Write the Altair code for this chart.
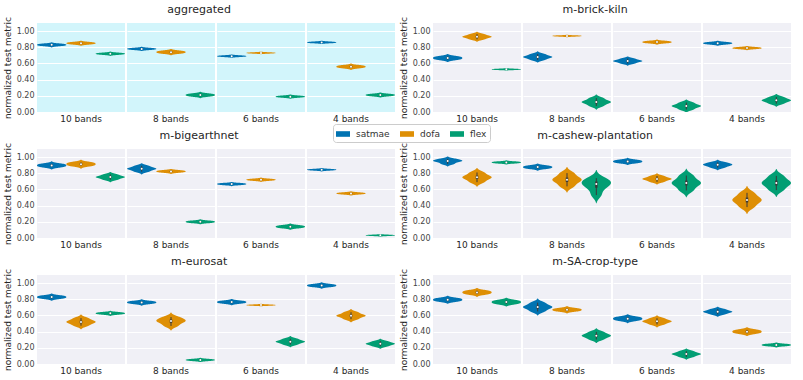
import altair as alt
import pandas as pd

BANDS = ["10 bands", "8 bands", "6 bands", "4 bands"]
MODELS = ["satmae", "dofa", "flex"]
COLORS = ["#0173b2", "#de8f05", "#029e73"]
Y_TICKS = [0.0, 0.2, 0.4, 0.6, 0.8, 1.0]

# sample runs per violin (one list per band, order: 10, 8, 6, 4 bands)
aggregated = {
    "satmae": [[0.818, 0.83, 0.842], [0.77, 0.78, 0.79], [0.682, 0.69, 0.698], [0.852, 0.86, 0.868]],
    "dofa": [[0.838, 0.85, 0.862], [0.725, 0.74, 0.755], [0.724, 0.73, 0.736], [0.545, 0.56, 0.575]],
    "flex": [[0.71, 0.72, 0.73], [0.195, 0.21, 0.225], [0.18, 0.19, 0.20], [0.198, 0.21, 0.222]],
}
brick_kiln = {
    "satmae": [[0.648, 0.667, 0.686], [0.644, 0.668, 0.68, 0.692, 0.716],
               [0.60, 0.62, 0.63, 0.64, 0.66], [0.838, 0.85, 0.862]],
    "dofa": [[0.898, 0.919, 0.93, 0.941, 0.962], [0.934, 0.94, 0.946],
             [0.852, 0.864, 0.876], [0.78, 0.79, 0.80]],
    "flex": [[0.521, 0.527, 0.533], [0.074, 0.107, 0.123, 0.139, 0.172],
             [0.031, 0.06, 0.074, 0.088, 0.117], [0.103, 0.13, 0.144, 0.158, 0.185]],
}
bigearthnet = {
    "satmae": [[0.878, 0.897, 0.916], [0.82, 0.844, 0.856, 0.868, 0.892],
               [0.657, 0.667, 0.677], [0.836, 0.844, 0.852]],
    "dofa": [[0.892, 0.913, 0.934], [0.811, 0.823, 0.835], [0.71, 0.72, 0.73], [0.541, 0.551, 0.561]],
    "flex": [[0.72, 0.742, 0.753, 0.764, 0.786], [0.188, 0.20, 0.212],
             [0.125, 0.14, 0.155], [0.027, 0.033, 0.039]],
}
cashew = {
    "satmae": [[0.915, 0.94, 0.952, 0.962, 0.978], [0.859, 0.876, 0.893],
               [0.929, 0.946, 0.963], [0.87, 0.893, 0.905, 0.917, 0.935]],
    "dofa": [[0.69, 0.73, 0.75, 0.77, 0.81], [0.638, 0.693, 0.72, 0.747, 0.802],
             [0.694, 0.718, 0.73, 0.742, 0.766], [0.382, 0.44, 0.47, 0.50, 0.558]],
    "flex": [[0.924, 0.934, 0.944], [0.53, 0.61, 0.655, 0.68, 0.705, 0.74],
             [0.588, 0.65, 0.68, 0.71, 0.772], [0.592, 0.65, 0.68, 0.71, 0.768]],
}
eurosat = {
    "satmae": [[0.81, 0.827, 0.844], [0.746, 0.761, 0.776], [0.75, 0.765, 0.78], [0.955, 0.97, 0.985]],
    "dofa": [[0.473, 0.504, 0.52, 0.536, 0.567], [0.47, 0.51, 0.532, 0.55, 0.58],
             [0.722, 0.728, 0.734], [0.554, 0.583, 0.597, 0.611, 0.64]],
    "flex": [[0.614, 0.626, 0.638], [0.04, 0.05, 0.06],
             [0.24, 0.264, 0.276, 0.288, 0.312], [0.218, 0.239, 0.25, 0.261, 0.282]],
}
sa_crop = {
    "satmae": [[0.775, 0.794, 0.813], [0.65, 0.686, 0.704, 0.722, 0.758],
               [0.539, 0.56, 0.581], [0.614, 0.635, 0.646, 0.657, 0.678]],
    "dofa": [[0.864, 0.885, 0.906], [0.653, 0.67, 0.687],
             [0.489, 0.514, 0.527, 0.54, 0.565], [0.379, 0.40, 0.421]],
    "flex": [[0.744, 0.765, 0.786], [0.303, 0.334, 0.35, 0.366, 0.397],
             [0.087, 0.111, 0.123, 0.135, 0.159], [0.223, 0.235, 0.247]],
}

PANELS = [
    ("aggregated", aggregated, "#d2f5fb"),
    ("m-brick-kiln", brick_kiln, "#f0f0f6"),
    ("m-bigearthnet", bigearthnet, "#f0f0f6"),
    ("m-cashew-plantation", cashew, "#f0f0f6"),
    ("m-eurosat", eurosat, "#f0f0f6"),
    ("m-SA-crop-type", sa_crop, "#f0f0f6"),
]

YTITLE = "normalized test metric"
yscale = alt.Scale(domain=[0, 1.1], nice=False, zero=False)
yaxis = alt.Axis(values=Y_TICKS, format=".2f", title=YTITLE)
xscale = alt.Scale(domain=[-0.5, 2.5], nice=False, zero=False)
cscale = alt.Scale(domain=MODELS, range=COLORS)
legend = alt.Legend(
    orient="none", legendX=296, legendY=101, direction="horizontal", title=None,
    symbolType="M-1,-0.4L1,-0.4L1,0.4L-1,0.4Z", symbolSize=196,
    symbolStrokeWidth=0, symbolOpacity=1, fillColor="white", strokeColor="#cccccc",
    padding=3, cornerRadius=3, labelFontSize=9, labelColor="#333333",
    columnPadding=10, labelOffset=6,
)


def panel(name, samples, bg):
    rows = []
    for mi, m in enumerate(MODELS):
        for bi, b in enumerate(BANDS):
            for v in samples[m][bi]:
                rows.append({"band": b, "model": m, "idx": mi, "value": v})
    df = pd.DataFrame(rows)
    base = alt.Chart()
    violin = base.transform_density(
        "value", groupby=["band", "model", "idx"], as_=["value", "density"],
        extent=[0, 1.1], steps=1101,
    ).transform_joinaggregate(
        dmax="max(density)", groupby=["band", "model"]
    ).transform_calculate(
        norm="datum.density / datum.dmax"
    ).transform_filter(
        "datum.norm > 0.02"
    ).transform_calculate(
        xa="datum.idx - 0.5 * datum.norm", xb="datum.idx + 0.5 * datum.norm"
    ).mark_area(orient="horizontal", opacity=1).encode(
        y=alt.Y("value:Q", scale=yscale, axis=yaxis, title=YTITLE),
        x=alt.X("xa:Q", scale=xscale, axis=None),
        x2="xb:Q",
        color=alt.Color("model:N", scale=cscale, legend=legend),
    )
    stats = base.transform_aggregate(
        lo="min(value)", hi="max(value)", med="median(value)",
        q1="q1(value)", q3="q3(value)", groupby=["band", "model", "idx"],
    )
    whisk = stats.mark_rule(color="#3a3a3a", strokeWidth=1).encode(
        x=alt.X("idx:Q", scale=xscale, axis=None),
        y=alt.Y("lo:Q", scale=yscale, axis=yaxis, title=YTITLE), y2="hi:Q",
    )
    box = stats.mark_rule(color="#3a3a3a", strokeWidth=2.5).encode(
        x=alt.X("idx:Q", scale=xscale, axis=None),
        y=alt.Y("q1:Q", scale=yscale, axis=yaxis, title=YTITLE), y2="q3:Q",
    )
    dot = stats.mark_point(filled=True, color="white", size=4, opacity=1).encode(
        x=alt.X("idx:Q", scale=xscale, axis=None),
        y=alt.Y("med:Q", scale=yscale, axis=yaxis, title=YTITLE),
    )
    layer = alt.layer(violin, whisk, box, dot, data=df).properties(
        width=88, height=89, view=alt.ViewBackground(fill=bg, stroke=None)
    )
    return layer.facet(
        column=alt.Column(
            "band:N", sort=BANDS,
            header=alt.Header(title=None, labelOrient="bottom", labelFontSize=9,
                              labelColor="#262626", labelPadding=3),
        ),
        spacing=2,
        title=alt.TitleParams(name, fontSize=11, fontWeight="normal",
                              color="#262626", offset=2, anchor="middle"),
    )


charts = [panel(*p) for p in PANELS]
rows = [alt.hconcat(charts[i], charts[i + 1], spacing=4) for i in (0, 2, 4)]
chart = alt.vconcat(*rows, spacing=5).configure(
    font="DejaVu Sans", padding={"left": 3, "top": 3, "right": 3, "bottom": 0}
).configure_axis(
    grid=True, gridColor="white", gridWidth=1, domain=False, ticks=False,
    labelColor="#444444", labelFontSize=8, labelPadding=3,
    titleFontSize=9, titleColor="#262626", titleFontWeight="normal", titlePadding=4,
).configure_view(stroke=None).configure_title(font="DejaVu Sans")

chart.save("out.html", embed_options={"renderer": "svg", "actions": False})
